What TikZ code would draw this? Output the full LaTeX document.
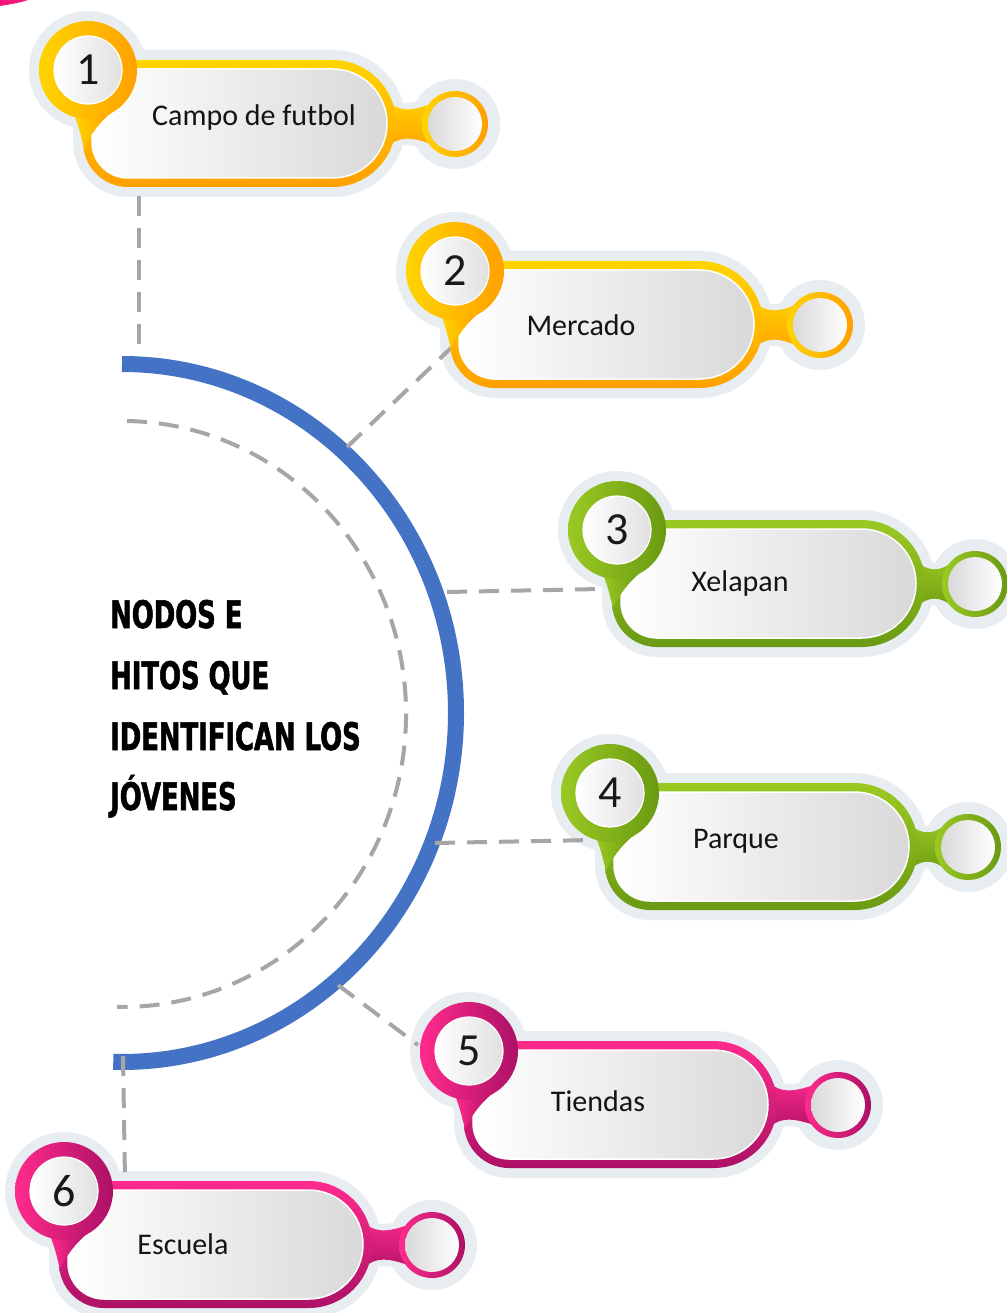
\documentclass[tikz,border=0pt]{standalone}
\usepackage{fontspec}
\setmainfont{Carlito}
\newfontfamily\titlefont{DejaVu Sans}[FakeStretch=0.68,FakeBold=1.4]
\usetikzlibrary{calc}
\definecolor{halo}{HTML}{E8EDF2}
\definecolor{bluearc}{HTML}{4472C4}
\definecolor{dashgray}{HTML}{A6A6A6}
\definecolor{yelA}{HTML}{FFD400}
\definecolor{yelB}{HTML}{FFA000}
\definecolor{grnA}{HTML}{9BC923}
\definecolor{grnB}{HTML}{6A9A12}
\definecolor{pnkA}{HTML}{FF2B8C}
\definecolor{pnkB}{HTML}{AC1166}
\definecolor{pinkcorner}{HTML}{F0167C}
\definecolor{fillgray}{HTML}{D9D9D9}
\pgfdeclarelayer{bglayer}
\pgfdeclarelayer{halolayer}
\pgfdeclarelayer{linelayer}
\pgfsetlayers{bglayer,halolayer,linelayer,main}
\def\pillouter{(40,-10) -- (244.5,-10) arc[start angle=-90,end angle=90,radius=63.5] -- (40,117) arc[start angle=90,end angle=180,radius=45] -- (-5,35) arc[start angle=180,end angle=270,radius=45] -- cycle}
\def\pillinner{(40,-1) -- (244.5,-1) arc[start angle=-90,end angle=90,radius=54.5] -- (40,108) arc[start angle=90,end angle=180,radius=36] -- (4,35) arc[start angle=180,end angle=270,radius=36] -- cycle}
\tikzset{
  conn/.style={draw=dashgray,line width=4pt,dash pattern=on 20pt off 12pt},
  numtext/.style={font=\fontsize{46}{50}\selectfont,text=black!90,inner sep=0pt},
  labtext/.style={font=\fontsize{30}{34}\selectfont,text=black!92,inner sep=0pt},
  titletext/.style={font=\titlefont\bfseries\fontsize{38}{44}\selectfont,text=black,inner sep=0pt,anchor=base west},
}
% #1 x, #2 y, #3 light, #4 dark, #5 number, #6 name, #7 knob dx
\newcommand\bubble[7]{%
\begin{scope}[shift={(#1,#2)}]
 \begin{pgfonlayer}{halolayer}
  \fill[halo] (0,0) circle[radius=59];
  \fill[halo] (#7,54) circle[radius=45];
  \path[fill=halo,draw=halo,line width=20pt,line join=round] \pillouter;
  \path[fill=halo,draw=halo,line width=18pt,line join=round] (293,32) .. controls (307,44) and (320,44) .. ({#7-25},38) -- ({#7-25},70) .. controls (320,64) and (307,64) .. (293,76) -- cycle;
 \end{pgfonlayer}
 \shade[top color=#3,bottom color=#4] (293,24) .. controls (307,42) and (320,42) .. ({#7-27},35) -- ({#7-27},73) .. controls (320,66) and (307,66) .. (293,84) -- cycle;
 \shade[left color=#3,right color=#4] (#7,54) circle[radius=33];
 \shade[left color=fillgray,right color=white] (#7,54) circle[radius=27];
 \shade[top color=#3,bottom color=#4] \pillouter;
 \shade[left color=white,right color=fillgray] \pillinner;
 \draw[white,line width=1.5pt] \pillinner;
 \shade[left color=#3,right color=#4] (-14,44) .. controls (-9,58) .. (-4,78) .. controls (4,62) and (12,52) .. (24,42) -- cycle;
 \shade[left color=#3,right color=#4] (0,0) circle[radius=49];
 \shade[left color=white,right color=fillgray!80] (0,0) circle[radius=34];
 \draw[white,line width=1.2pt] (0,0) circle[radius=34];
 \node[numtext] (n#6) at (0,0) {#5};
 \coordinate (tip#6) at (-4,77);
\end{scope}}
\begin{document}
\begin{tikzpicture}[x=1pt,y=-1pt]
\useasboundingbox (0,0) rectangle (1006,1313);
\begin{pgfonlayer}{bglayer}
\fill[white] (0,0) rectangle (1006,1313);
\fill[pinkcorner] (0,0) -- (28,0) .. controls (18,3) .. (0,6) -- cycle;
\end{pgfonlayer}
% items
\bubble{88}{70}{yelA}{yelB}{1}{1}{367}
\bubble{455}{271}{yelA}{yelB}{2}{2}{365}
\bubble{617}{530}{grnA}{grnB}{3}{3}{358}
\bubble{610}{793}{grnA}{grnB}{4}{4}{358}
\bubble{469}{1051}{pnkA}{pnkB}{5}{5}{369}
\bubble{64}{1191}{pnkA}{pnkB}{6}{6}{368}
\node[labtext] (l1) at (254,118) {Campo de futbol};
\node[labtext] (l2) at (581,325) {Mercado};
\node[labtext] (l3) at (740,583) {Xelapan};
\node[labtext] (l4) at (736,841) {Parque};
\node[labtext] (l5) at (598,1101) {Tiendas};
\node[labtext] (l6) at (183,1244) {Escuela};
% arcs and connectors
\begin{pgfonlayer}{linelayer}
 \draw[bluearc,line width=16pt] (122,364) arc[start angle=-90,end angle=91.5,x radius=334,y radius=349];
 \draw[dashgray,line width=4pt,dash pattern=on 20pt off 12pt] (127,421) arc[start angle=-89,end angle=91,x radius=284,y radius=293];
 \coordinate (a1) at (139,352);
 \coordinate (p1) at (139,196);
 \coordinate (a2) at (347,447);
 \coordinate (a3) at (447,592);
 \coordinate (p3) at (600,589);
 \coordinate (a4) at (435,843);
 \coordinate (p4) at (593,840);
 \coordinate (a5) at (338,985);
 \coordinate (p5) at (418,1045);
 \coordinate (a6) at (123,1056);
 \coordinate (p6) at (125,1180);
 \draw[conn] (p1) -- (a1);
 \draw[conn] (a2) -- (tip2);
 \draw[conn] (a3) -- (p3);
 \draw[conn] (a4) -- (p4);
 \draw[conn] (a5) -- (p5);
 \draw[conn] (a6) -- (p6);
\end{pgfonlayer}
% title
\node[titletext] (t1) at (110,628) {NODOS E};
\node[titletext] (t2) at (110,689) {HITOS QUE};
\node[titletext] (t3) at (110,750) {IDENTIFICAN LOS};
\node[titletext] (t4) at (110,810) {JÓVENES};
\end{tikzpicture}
\end{document}
